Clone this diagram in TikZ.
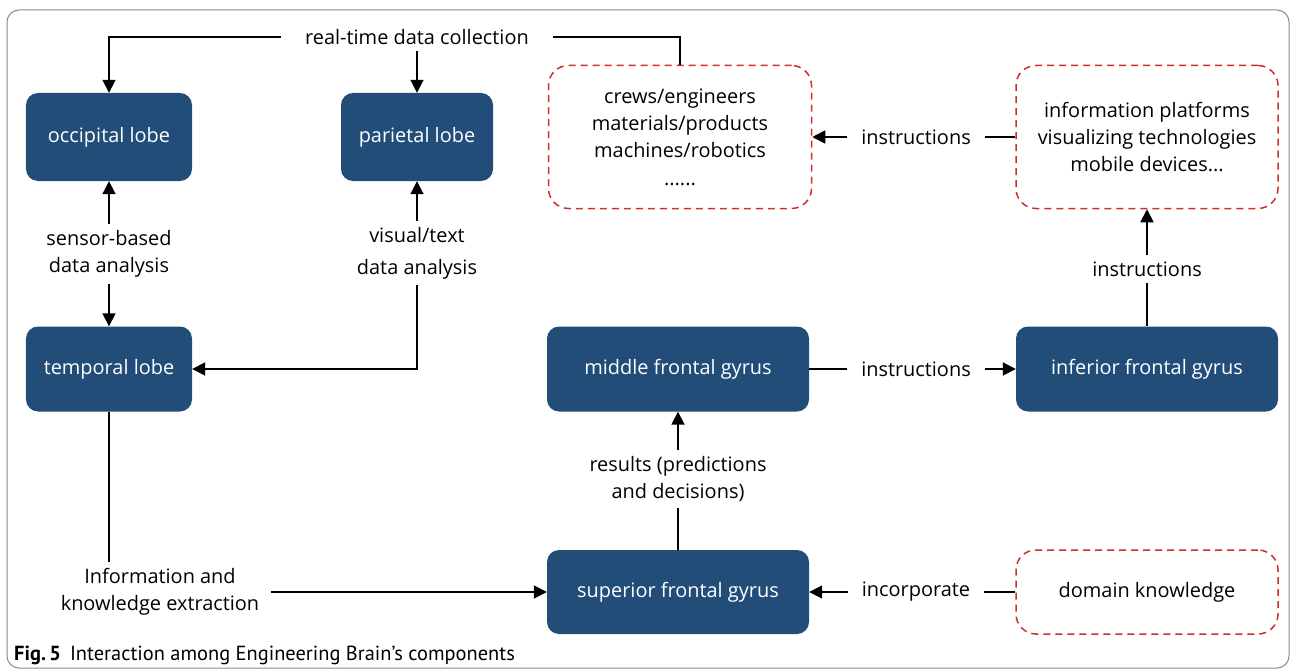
\documentclass[tikz,border=0pt]{standalone}
\usepackage{fontspec}
\setmainfont{Open Sans}
\newfontfamily\capfont{PT Sans}
\usetikzlibrary{arrows.meta}
\definecolor{boxblue}{RGB}{35,77,121}
\definecolor{dashred}{RGB}{208,45,45}
\definecolor{frame}{RGB}{140,140,140}
\begin{document}
\begin{tikzpicture}[x=1bp,y=-1bp,
  font=\fontsize{20}{27.5}\selectfont,
  bluebox/.style={rectangle, fill=boxblue, rounded corners=12bp, text=white, inner sep=0pt},
  redbox/.style={rectangle, draw=dashred, line width=1.5bp, dash pattern=on 7bp off 5bp, rounded corners=20bp, align=center, inner sep=0pt},
  lbl/.style={align=center, inner xsep=14bp, inner ysep=6bp},
  conn/.style={line width=1.8bp, black},
  arr/.style={conn, -{Triangle[length=13bp,width=13bp]}}]
\useasboundingbox (0,0) rectangle (1293,672);
\draw[frame, line width=1bp, rounded corners=12bp] (7,10) rectangle (1289,668);

% boxes
\node[bluebox, minimum width=166bp, minimum height=88bp] (occ) at (109,137) {occipital lobe};
\node[bluebox, minimum width=152bp, minimum height=88bp] (par) at (417,137) {parietal lobe};
\node[redbox, minimum width=263bp, minimum height=143bp] (crews) at (680,137) {crews/engineers\\materials/products\\machines/robotics\\......};
\node[redbox, minimum width=262bp, minimum height=143bp] (info) at (1147,137) {information platforms\\visualizing technologies\\mobile devices...};
\node[bluebox, minimum width=166bp, minimum height=85bp] (temp) at (109,369) {temporal lobe};
\node[bluebox, minimum width=262bp, minimum height=85bp] (mid) at (678,369) {middle frontal gyrus};
\node[bluebox, minimum width=262bp, minimum height=85bp] (inf) at (1147,369) {inferior frontal gyrus};
\node[bluebox, minimum width=262bp, minimum height=84bp] (sup) at (678,592) {superior frontal gyrus};
\node[redbox, minimum width=262bp, minimum height=84bp] (dom) at (1147,592) {domain knowledge};

% labels
\node[lbl, inner xsep=24bp] (rt) at (417,37) {real-time data collection};
\node[lbl] (sb) at (109,254) {sensor-based\\data analysis};
\node[lbl, font=\fontsize{20}{32}\selectfont] (vt) at (417,253) {visual/text\\data analysis};
\node[lbl] (ins1) at (916,137) {instructions};
\node[lbl] (ins2) at (1147,269) {instructions};
\node[lbl] (ins3) at (916,369) {instructions};
\node[lbl] (res) at (678,479) {results (predictions\\and decisions)};
\node[lbl] (inc) at (916,592) {incorporate};
\node[lbl, inner xsep=12bp] (ike) at (160,592) {Information and\\knowledge extraction};

% connectors
\draw[arr] (rt.west) -| (occ.north);
\draw[conn] (rt.east) -| (crews.north);
\draw[arr] (rt.south) -- (par.north);
\draw[arr] (sb.north) -- (occ.south);
\draw[arr] (sb.south) -- (temp.north);
\draw[arr] (vt.north) -- (par.south);
\draw[arr] (vt.south) |- (temp.east);
\draw[arr] (ins1.west) -- (crews.east);
\draw[conn] (info.west) -- (ins1.east);
\draw[arr] (ins2.north) -- (info.south);
\draw[conn] (inf.north) -- (ins2.south);
\draw[conn] (mid.east) -- (ins3.west);
\draw[arr] (ins3.east) -- (inf.west);
\draw[arr] (res.north) -- (mid.south);
\draw[conn] (sup.north) -- (res.south);
\draw[arr] (inc.west) -- (sup.east);
\draw[conn] (dom.west) -- (inc.east);
\draw[conn] (temp.south) -- (temp.south |- ike.north);
\draw[arr] (ike.east) -- (sup.west);

% caption
\node[anchor=west, inner sep=0pt, font=\capfont\fontsize{20.5}{24}\selectfont] (cap) at (14,655) {\textbf{Fig.\,5}\hspace{9bp}Interaction among Engineering Brain’s components};
\end{tikzpicture}
\end{document}
